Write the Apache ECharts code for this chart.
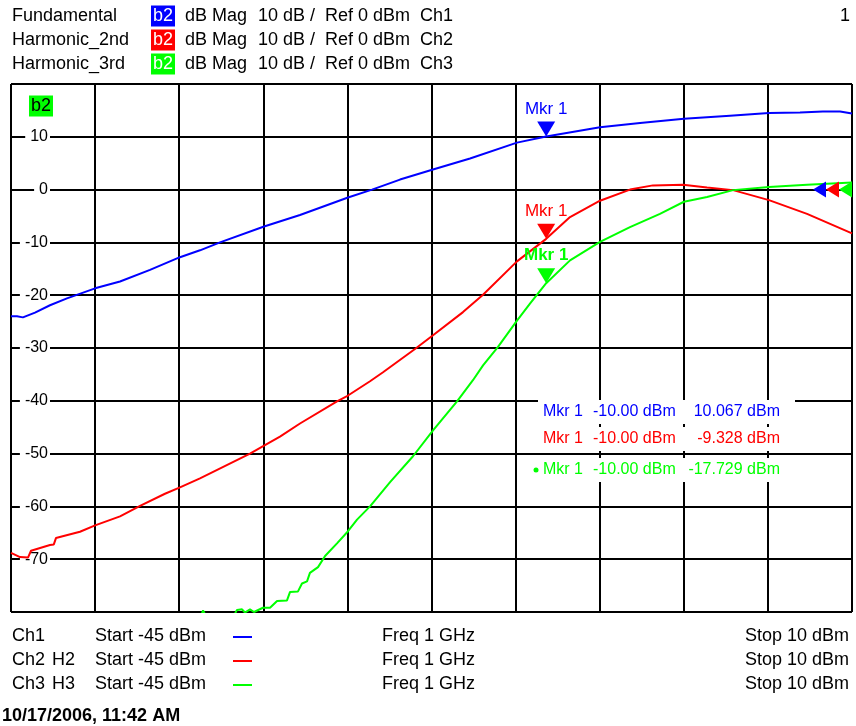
<!DOCTYPE html>
<html>
<head>
<meta charset="utf-8">
<title>Harmonic power sweep</title>
<script src="https://cdn.jsdelivr.net/npm/echarts@6/dist/echarts.min.js"></script>
<style>
  html, body { margin: 0; padding: 0; background: #fff; }
  #chart { width: 856px; height: 726px; }
</style>
</head>
<body>
<div id="chart"></div>
<script>
// ---- sweep settings ----
const startPower = -45;          // dBm
const stopPower = 10;            // dBm
const sweepFreq = '1 GHz';
const dbMin = -80, dbMax = 20, dbStep = 10;
const divisions = 10;
const refLevel = 0;              // dBm

// ---- traces ----
const traceNames = ['Fundamental', 'Harmonic_2nd', 'Harmonic_3rd'];
const traceColors = ['#0000ff', '#ff0000', '#00ff00'];
const channelNames = ['Ch1', 'Ch2', 'Ch3'];
const harmonicTags = ['', 'H2', 'H3'];

// ---- marker 1 readout ----
const markerPower = -10;
const markerValues = [10.067, -9.328, -17.729];

// measured points: [drive power dBm, b2 magnitude dB]
const fundamental = [
  [-45.00, -24.0], [-44.61, -24.0], [-44.22, -24.2], [-43.43, -23.3], [-42.45, -21.9],
  [-41.34, -20.6], [-39.50, -18.7], [-37.87, -17.4], [-35.91, -15.2], [-33.95, -12.8],
  [-32.64, -11.5], [-31.33, -10.0], [-28.45, -7.0], [-26.10, -4.8], [-22.96, -1.5],
  [-21.39, 0.0], [-19.56, 1.9], [-17.40, 3.8], [-14.98, 5.9], [-11.91, 8.9],
  [-6.48, 11.8], [-3.86, 12.6], [-0.99, 13.4], [2.02, 14.0], [4.57, 14.5],
  [6.60, 14.6], [8.10, 14.8], [9.22, 14.8], [10.00, 14.4]
];
const harmonic2 = [
  [-45.00, -68.8], [-44.41, -69.6], [-43.89, -69.7], [-43.69, -68.4], [-42.45, -67.3],
  [-42.20, -67.2], [-42.06, -66.0], [-40.49, -64.8], [-39.50, -63.6], [-37.87, -61.9],
  [-36.56, -59.9], [-34.93, -57.6], [-33.95, -56.4], [-32.64, -54.7], [-29.37, -50.0],
  [-28.45, -48.5], [-27.41, -46.8], [-26.10, -44.3], [-23.68, -40.1], [-22.96, -39.0],
  [-21.52, -36.3], [-20.67, -34.6], [-18.58, -30.2], [-17.40, -27.6], [-15.44, -23.2],
  [-14.13, -19.9], [-11.91, -13.6], [-8.44, -5.2], [-6.48, -2.1], [-4.52, 0.0],
  [-3.02, 0.8], [-1.05, 0.9], [0.52, 0.4], [2.22, -0.1], [4.57, -2.0],
  [7.06, -4.6], [10.00, -8.3]
];
const harmonic3 = [
  [-33.50, -82.0], [-32.55, -80.6], [-32.44, -79.7], [-32.25, -80.8], [-30.48, -81.0],
  [-30.22, -79.6], [-29.89, -79.5], [-29.70, -80.1], [-29.37, -79.5], [-29.11, -80.0],
  [-28.52, -79.2], [-28.06, -79.2], [-27.60, -77.9], [-26.95, -77.8], [-26.75, -76.2],
  [-26.23, -76.1], [-25.97, -74.6], [-25.64, -74.2], [-25.45, -72.6], [-24.92, -71.5],
  [-24.46, -69.4], [-23.68, -67.0], [-22.96, -64.7], [-22.37, -62.5], [-21.52, -60.0],
  [-20.21, -55.4], [-18.71, -50.5], [-17.40, -45.6], [-15.83, -40.1], [-14.79, -36.1],
  [-14.13, -33.3], [-13.15, -29.8], [-11.91, -24.8], [-11.06, -21.6], [-8.44, -13.4],
  [-6.48, -9.9], [-4.52, -7.1], [-2.56, -4.6], [-0.99, -2.3], [0.52, -1.4],
  [2.22, -0.1], [4.57, 0.5], [7.06, 0.9], [10.00, 1.35]
];
const traces = [fundamental, harmonic2, harmonic3];

const FONT = '"Liberation Sans", Arial, Helvetica, sans-serif';

function withMarker(points, value) {
  return points.concat([[markerPower, value]]).sort((a, b) => a[0] - b[0]);
}

const chart = echarts.init(document.getElementById('chart'), null, { renderer: 'canvas' });

const grid = { left: 11, top: 84, width: 841, height: 528 };

chart.setOption({
  animation: false,
  backgroundColor: '#fff',
  grid: Object.assign({ show: true, borderColor: '#000', borderWidth: 1, backgroundColor: '#fff' }, grid),
  xAxis: [
    { type: 'value', min: startPower, max: stopPower, show: false },
    {
      type: 'value', min: 0, max: divisions, interval: 1, position: 'bottom', z: 0,
      axisLine: { show: false },
      axisTick: { show: true, inside: false, length: 5, lineStyle: { color: '#000', width: 1.5 } },
      axisLabel: { show: false },
      splitLine: { show: true, lineStyle: { color: '#000', width: 2 } }
    }
  ],
  yAxis: [
    {
      type: 'value', min: dbMin, max: dbMax, interval: dbStep, z: 1,
      axisLine: { show: false }, axisTick: { show: false }, splitLine: { show: false },
      axisLabel: {
        inside: true, align: 'right', margin: 39, fontSize: 16, fontFamily: FONT, color: '#000',
        backgroundColor: '#fff', padding: [1, 2, 1, 5], showMinLabel: false, showMaxLabel: false
      }
    },
    {
      type: 'value', min: dbMin, max: dbMax, interval: dbStep, z: 0,
      axisLine: { show: false }, axisTick: { show: false }, axisLabel: { show: false },
      splitLine: { show: true, lineStyle: { color: '#000', width: 2 } }
    }
  ],
  series: traces.map((pts, i) => ({
    name: traceNames[i],
    type: 'line',
    xAxisIndex: 0,
    yAxisIndex: 0,
    data: withMarker(pts, markerValues[i]),
    showSymbol: false,
    clip: true,
    z: 3 + i,
    lineStyle: { color: traceColors[i], width: 2 },
    itemStyle: { color: traceColors[i] },
    markPoint: {
      symbol: 'triangle',
      symbolSize: [18, 15],
      symbolRotate: 180,
      symbolOffset: [0, -7.5],
      itemStyle: { color: traceColors[i] },
      label: {
        show: true, position: 'top', distance: 4, formatter: 'Mkr 1',
        color: traceColors[i], fontSize: 17, fontFamily: FONT,
        fontWeight: i === 2 ? 'bold' : 'normal'
      },
      data: [{ coord: [markerPower, markerValues[i]] }]
    }
  }))
});

// ---- annotations ----
const g = [];
function txt(text, x, y, opts) {
  g.push({
    type: 'text', z: 20, silent: true,
    style: Object.assign({
      text: text, x: x, y: y, font: '18px ' + FONT, fill: '#000',
      textAlign: 'left', textVerticalAlign: 'middle'
    }, opts || {})
  });
}

// header
traceNames.forEach((name, i) => {
  const y = 16 + 24 * i;
  txt(name, 12, y);
  txt('b2', 151, y, { fill: '#fff', backgroundColor: traceColors[i], padding: [2, 2, 1, 2] });
  txt('dB Mag', 185, y);
  txt(dbStep + ' dB /', 258, y);
  txt('Ref ' + refLevel + ' dBm', 325, y);
  txt(channelNames[i], 420, y);
});
txt('1', 850, 16, { textAlign: 'right' });

// active parameter tag inside the plot
txt('b2', 29, 106, { backgroundColor: '#00ff00', padding: [2, 2, 1, 2] });

// marker readout table
const rowY = [412, 439, 470];
markerValues.forEach((v, i) => {
  const y = rowY[i];
  g.push({ type: 'rect', z: 19, silent: true, shape: { x: 538, y: y - 12, width: 257, height: 24 }, style: { fill: '#fff' } });
  const o = { font: '16px ' + FONT, fill: traceColors[i] };
  txt('Mkr 1', 543, y, o);
  txt(markerPower.toFixed(2) + ' dBm', 593, y, o);
  txt(v.toFixed(3) + ' dBm', 780, y, Object.assign({}, o, { textAlign: 'right' }));
});
g.push({ type: 'circle', z: 20, silent: true, shape: { cx: 536, cy: rowY[2], r: 2.5 }, style: { fill: traceColors[2] } });

// footer
channelNames.forEach((ch, i) => {
  const y = 636 + 24 * i;
  txt(ch, 12, y);
  if (harmonicTags[i]) txt(harmonicTags[i], 52, y);
  txt('Start ' + startPower + ' dBm', 95, y);
  g.push({ type: 'line', z: 20, silent: true, shape: { x1: 233, y1: y + 1, x2: 252, y2: y + 1 }, style: { stroke: traceColors[i], lineWidth: 2 } });
  txt('Freq ' + sweepFreq, 382, y);
  txt('Stop ' + stopPower + ' dBm', 849, y, { textAlign: 'right' });
});
txt('10/17/2006, 11:42 AM', 2, 716, { font: 'bold 18px ' + FONT, letterSpacing: -1.2 });

// reference level arrows at the right edge
const refY = chart.convertToPixel({ yAxisIndex: 0 }, refLevel);
[813, 826, 839].forEach((tipX, i) => {
  g.push({
    type: 'polygon', z: 21, silent: true,
    shape: { points: [[tipX, refY], [tipX + 13, refY - 8], [tipX + 13, refY + 8]] },
    style: { fill: traceColors[i] }
  });
});

chart.setOption({ graphic: g });
</script>
</body>
</html>
